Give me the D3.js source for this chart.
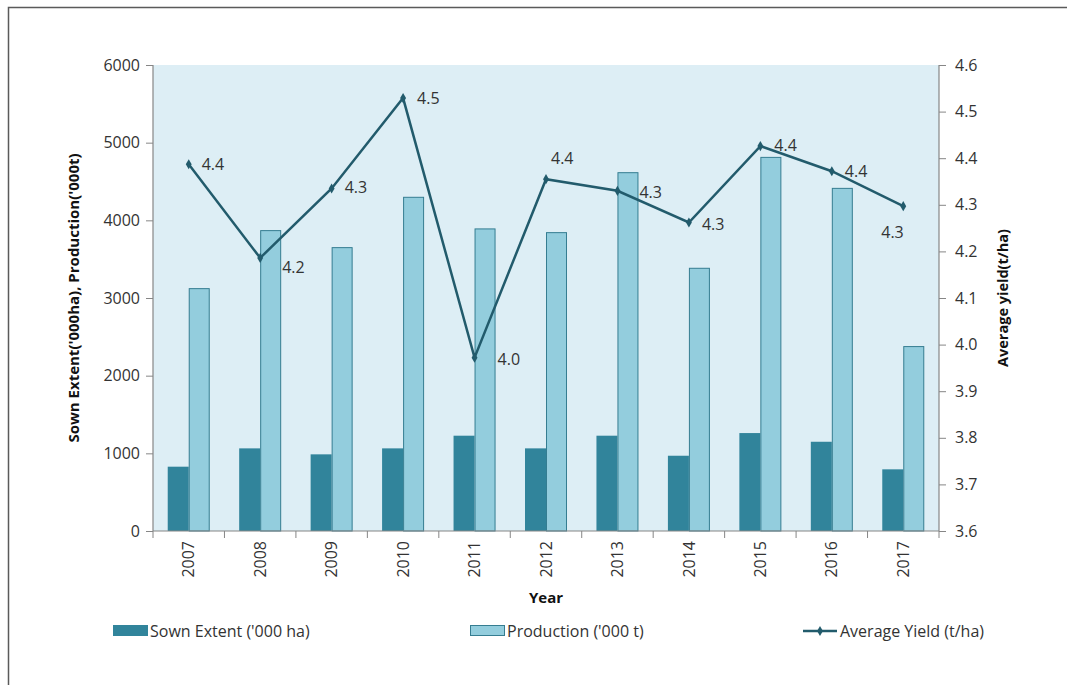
<!DOCTYPE html>
<html>
<head>
<meta charset="utf-8">
<script src="https://cdn.jsdelivr.net/npm/d3@7"></script>
<style>
  body { margin: 0; background: #fff; }
  text { font-family: "Open Sans", "Noto Sans", sans-serif; fill: #333; }
</style>
</head>
<body>
<div id="container"></div>
<script>
// data
var years = ['2007', '2008', '2009', '2010', '2011', '2012', '2013', '2014', '2015', '2016', '2017'];
var sownExtent = [828, 1064, 987, 1064, 1227, 1064, 1227, 969, 1261, 1149, 794];
var production = [3127, 3874, 3655, 4303, 3896, 3848, 4620, 3389, 4817, 4418, 2381];
var avgYield = [4.387, 4.186, 4.335, 4.529, 3.972, 4.355, 4.330, 4.262, 4.426, 4.372, 4.297];
var leftTicks = [0, 1000, 2000, 3000, 4000, 5000, 6000];
var rightTicks = [3.6, 3.7, 3.8, 3.9, 4.0, 4.1, 4.2, 4.3, 4.4, 4.5, 4.6];

// where each yield label sits relative to its point (layout only)
var labelOffsets = [[13, 6], [22, 15], [13, 5], [14, 6], [23, 7], [5, -15], [22, 7], [13, 7], [14, 5], [13, 6], [-22, 32]];

var width = 1067, height = 685;
var margin = {left: 153, right: 128, top: 65, bottom: 154};
var x0 = margin.left, x1 = width - margin.right;
var y0 = height - margin.bottom, y1 = margin.top;
var fontSize = "16px";

var svg = d3.select("div#container")
  .append("svg")
  .attr("width", width)
  .attr("height", height);

// outer frame (only left/top visible in the picture)
svg.append("rect")
  .attr("x", 8.5).attr("y", 7.5)
  .attr("width", width + 20).attr("height", height + 20)
  .attr("fill", "none").attr("stroke", "#5a5a5a").attr("stroke-width", 1.5);

var x = d3.scaleBand().domain(years).range([x0, x1]).paddingInner(0).paddingOuter(0);
var yL = d3.scaleLinear().domain([0, 6000]).range([y0, y1]);
var yR = d3.scaleLinear().domain([3.6, 4.6]).range([y0, y1]);

// plot background
svg.append("rect")
  .attr("x", x0).attr("y", y1)
  .attr("width", x1 - x0).attr("height", y0 - y1)
  .attr("fill", "#ddeef5");

var barW = 21;

svg.append("g").selectAll("rect")
  .data(years)
  .enter().append("rect")
  .attr("x", function(d) { return x(d) + x.bandwidth() / 2 - barW; })
  .attr("y", function(d, i) { return yL(sownExtent[i]); })
  .attr("width", barW)
  .attr("height", function(d, i) { return y0 - yL(sownExtent[i]); })
  .attr("fill", "#31849b");

svg.append("g").selectAll("rect")
  .data(years)
  .enter().append("rect")
  .attr("x", function(d) { return x(d) + x.bandwidth() / 2 + 0.5; })
  .attr("y", function(d, i) { return yL(production[i]) + 0.5; })
  .attr("width", barW - 1)
  .attr("height", function(d, i) { return y0 - yL(production[i]) - 0.5; })
  .attr("fill", "#93cddd")
  .attr("stroke", "#357d91")
  .attr("stroke-width", 1);

// axes
var axisColor = "#868686";

var leftAxis = svg.append("g")
  .attr("transform", "translate(" + x0 + ",0)")
  .call(d3.axisLeft(yL).tickValues(leftTicks).tickSize(7).tickPadding(6).tickFormat(d3.format("d")));

var rightAxis = svg.append("g")
  .attr("transform", "translate(" + x1 + ",0)")
  .call(d3.axisRight(yR).tickValues(rightTicks).tickSize(7).tickPadding(9).tickFormat(d3.format(".1f")));

var bottomAxis = svg.append("g")
  .attr("transform", "translate(0," + y0 + ")")
  .call(d3.axisBottom(x).tickSize(0).tickPadding(0));

// category boundary ticks
svg.append("g").selectAll("line")
  .data(years.concat(['end']))
  .enter().append("line")
  .attr("x1", function(d, i) { return x0 + i * x.bandwidth(); })
  .attr("x2", function(d, i) { return x0 + i * x.bandwidth(); })
  .attr("y1", y0).attr("y2", y0 + 7)
  .attr("stroke", axisColor);

[leftAxis, rightAxis, bottomAxis].forEach(function(a) {
  a.selectAll(".domain").attr("stroke", axisColor).attr("stroke-width", 1.2);
  a.selectAll(".tick line").attr("stroke", axisColor);
  a.selectAll("text").style("font-size", fontSize).style("fill", "#333")
    .style("font-family", '"Open Sans", sans-serif');
});
leftAxis.select(".domain").attr("d", "M0," + y0 + "V" + y1);
rightAxis.select(".domain").attr("d", "M0," + y0 + "V" + y1);
bottomAxis.select(".domain").attr("d", "M" + x0 + ",0H" + x1);

bottomAxis.selectAll(".tick text")
  .attr("transform", "rotate(-90)")
  .attr("x", -10).attr("y", 0).attr("dy", "0.35em")
  .style("text-anchor", "end");

// yield line
var line = d3.line()
  .x(function(d, i) { return x(years[i]) + x.bandwidth() / 2; })
  .y(function(d) { return yR(d); });

svg.append("path")
  .datum(avgYield)
  .attr("d", line)
  .attr("fill", "none")
  .attr("stroke", "#225b6c")
  .attr("stroke-width", 2.5);

var diamond = d3.symbol().type(d3.symbolDiamond).size(30);
svg.append("g").selectAll("path")
  .data(avgYield)
  .enter().append("path")
  .attr("d", diamond)
  .attr("transform", function(d, i) {
    return "translate(" + (x(years[i]) + x.bandwidth() / 2) + "," + yR(d) + ")";
  })
  .attr("fill", "#225b6c");

svg.append("g").selectAll("text")
  .data(avgYield)
  .enter().append("text")
  .attr("x", function(d, i) { return x(years[i]) + x.bandwidth() / 2 + labelOffsets[i][0]; })
  .attr("y", function(d, i) { return yR(d) + labelOffsets[i][1]; })
  .attr("text-anchor", "start")
  .style("font-size", fontSize)
  .text(function(d) { return d3.format(".1f")(d); });

// axis titles
svg.append("text")
  .attr("transform", "translate(79," + ((y0 + y1) / 2) + ") rotate(-90)")
  .attr("text-anchor", "middle")
  .style("font-size", "15px").style("font-weight", "bold").style("fill", "#111")
  .text("Sown Extent('000ha), Production('000t)");

svg.append("text")
  .attr("transform", "translate(1008," + ((y0 + y1) / 2) + ") rotate(-90)")
  .attr("text-anchor", "middle")
  .style("font-size", "14.5px").style("font-weight", "bold").style("fill", "#111")
  .text("Average yield(t/ha)");

svg.append("text")
  .attr("x", (x0 + x1) / 2).attr("y", 603)
  .attr("text-anchor", "middle")
  .style("font-size", "15px").style("font-weight", "bold").style("fill", "#111")
  .text("Year");

// legend
var legend = svg.append("g");
legend.append("rect").attr("x", 113).attr("y", 625).attr("width", 35).attr("height", 11).attr("fill", "#31849b");
legend.append("text").attr("x", 150).attr("y", 637).style("font-size", fontSize).text("Sown Extent ('000 ha)");

legend.append("rect").attr("x", 470.5).attr("y", 625.5).attr("width", 34).attr("height", 10)
  .attr("fill", "#93cddd").attr("stroke", "#357d91");
legend.append("text").attr("x", 507).attr("y", 637).style("font-size", fontSize).text("Production ('000 t)");

legend.append("line").attr("x1", 803).attr("x2", 837).attr("y1", 631).attr("y2", 631)
  .attr("stroke", "#225b6c").attr("stroke-width", 2.5);
legend.append("path").attr("d", diamond).attr("transform", "translate(820,631)").attr("fill", "#225b6c");
legend.append("text").attr("x", 840).attr("y", 637).style("font-size", fontSize).text("Average Yield (t/ha)");
</script>
</body>
</html>
